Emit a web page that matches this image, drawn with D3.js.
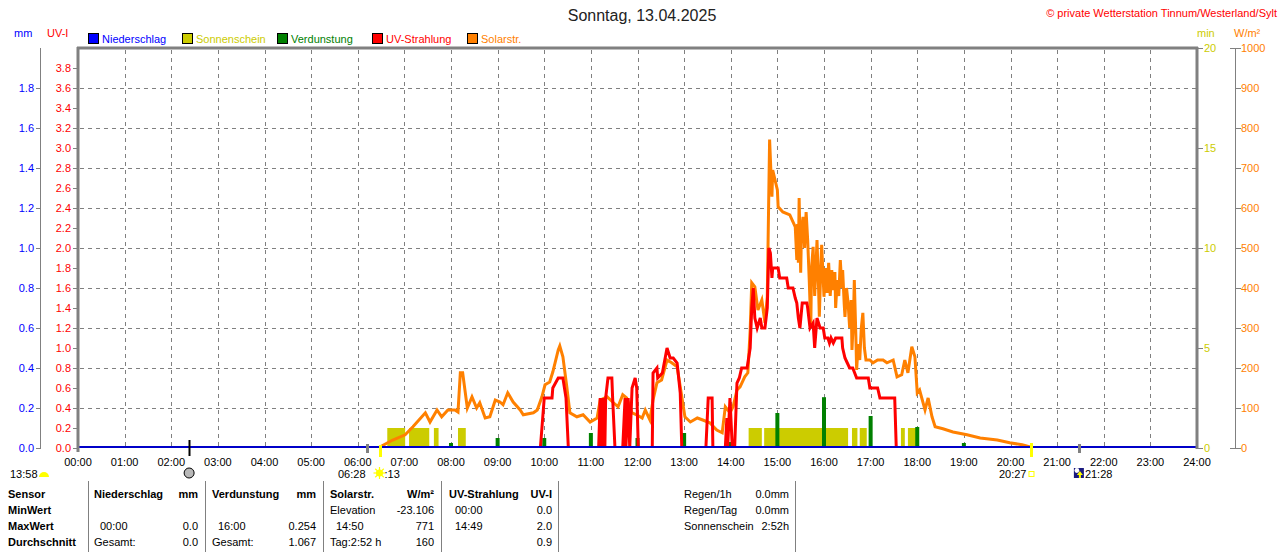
<!DOCTYPE html>
<html>
<head>
<meta charset="utf-8">
<script src="https://cdn.jsdelivr.net/npm/d3@7/dist/d3.min.js"></script>
<style>
body{margin:0;background:#fff;}
svg text{font-family:"Liberation Sans",Arial,sans-serif;font-size:11px;}
</style>
</head>
<body>
<div id="chart"></div>
<script>
// ---- data ----
var xTickLabels=["00:00","01:00","02:00","03:00","04:00","05:00","06:00","07:00","08:00","09:00","10:00","11:00","12:00",
  "13:00","14:00","15:00","16:00","17:00","18:00","19:00","20:00","21:00","22:00","23:00","24:00"];
var mmTicks=[0.0,0.2,0.4,0.6,0.8,1.0,1.2,1.4,1.6,1.8];
var uvTicks=[0.0,0.2,0.4,0.6,0.8,1.0,1.2,1.4,1.6,1.8,2.0,2.2,2.4,2.6,2.8,3.0,3.2,3.4,3.6,3.8];
var minTicks=[0,5,10,15,20];
var wTicks=[0,100,200,300,400,500,600,700,800,900,1000];

var legendNames=["Niederschlag","Sonnenschein","Verdunstung","UV-Strahlung","Solarstr."];
var legendColors=["#0000ff","#cccc00","#008000","#ff0000","#ff8000"];

// Sonnenschein (min)
var sunStart=["06:38","07:06","07:38","08:09","14:23","14:43","16:36","16:46","17:39","17:48"];
var sunEnd  =["07:01","07:32","07:44","08:19","14:40","16:31","16:43","16:55","17:44","18:01"];
var sunMinutes=[1,1,1,1,1,1,1,1,1,1];

// Verdunstung (mm)
var evapTimes=["08:00","09:00","10:00","11:00","12:00","13:00","14:00","15:00","16:00","17:00","18:00","19:00"];
var evapValues=[0.025,0.05,0.05,0.075,0.05,0.075,0.03,0.175,0.254,0.16,0.105,0.025];

// Solarstrahlung (W/m²)
var solarTimes=[
  "00:00","06:26","06:45","07:01","07:11","07:27","07:33","07:42","07:48","07:56","08:05","08:09","08:12","08:15","08:21",
  "08:27","08:33","08:37","08:44","08:50","08:57","09:03","09:07","09:13","09:20","09:29","09:33","09:46","09:51","09:57",
  "10:01","10:07","10:11","10:18","10:20","10:24","10:29","10:33","10:42","10:50","10:59","11:08","11:12","11:21","11:28",
  "11:35","11:41","11:46","11:53","11:59",
  "12:06","12:10","12:16","12:20","12:25","12:31","12:38","12:44","12:51","12:55","13:01","13:08","13:17","13:24","13:33",
  "13:42","13:49","13:53","13:59",
  "14:03","14:08","14:12","14:18","14:22","14:25","14:27","14:31","14:35","14:40","14:44","14:47","14:50","14:53","14:54",
  "15:00","15:01","15:07","15:16",
  "15:23","15:25","15:26","15:27","15:28","15:30","15:31","15:33","15:35","15:37","15:39","15:41","15:43","15:44","15:46",
  "15:48","15:50","15:51","15:53","15:54","15:56","15:57","15:59","16:00","16:02","16:04","16:06","16:08","16:10","16:12",
  "16:14","16:15","16:17","16:19","16:21","16:23","16:24","16:26","16:27","16:29","16:31","16:33","16:35","16:36","16:38",
  "16:39","16:41","16:42","16:44","16:46","16:48","16:50","16:52","16:54",
  "16:59","17:03","17:09","17:16","17:21","17:29","17:34","17:40","17:44","17:48","17:53","17:57","18:00","18:03","18:10",
  "18:14","18:19","18:23","18:33","18:46","19:04","19:21","19:43","19:59","20:15","20:25","20:27","24:00"];
var solarValues=[
  0,0,20,33,53,88,65,95,78,95,95,90,188,188,100,
  128,100,113,75,78,120,115,108,138,115,95,83,88,95,128,
  158,165,190,245,255,228,153,88,78,83,65,75,120,128,115,
  103,133,125,88,83,
  75,95,70,120,163,170,220,213,203,153,78,65,75,70,63,
  45,38,103,88,
  103,145,153,178,188,295,413,403,345,370,313,378,771,628,695,
  645,603,590,583,
  553,470,560,463,625,438,540,578,500,590,520,420,303,450,503,
  380,470,520,400,328,460,508,420,378,450,388,463,380,445,395,
  440,350,420,380,470,400,445,360,328,400,363,300,370,245,330,
  420,280,195,260,220,300,338,250,220,
  220,213,220,220,213,220,178,183,220,188,253,228,138,145,95,
  125,78,53,48,40,33,25,20,13,8,3,0,0];

// UV-Strahlung (UV-I)
var uvTimes=["00:00","09:55","09:58","10:00","10:10","10:11","10:18","10:24","10:28","10:31","11:10","11:12","11:14","11:16",
  "11:18","11:19","11:22","11:27","11:28","11:31","11:41","11:44","11:45","11:48","11:50","11:53","11:57","11:59","12:01","12:19",
  "12:20","12:25","12:26","12:32","12:38","12:42","12:46","12:51","12:55","12:57","13:28","13:31","13:36","13:37","13:53","13:55",
  "13:56","13:59","14:02","14:05","14:08","14:11","14:14","14:21","14:25","14:27","14:29","14:31","14:34","14:38","14:40","14:44",
  "14:47","14:49","14:51","14:53","14:54","15:01","15:03","15:12","15:14","15:20","15:23","15:25","15:27","15:29","15:32","15:38",
  "15:39","15:42","15:46","15:48","15:51","15:55","15:59","16:01","16:05","16:07","16:09","16:12","16:15","16:21","16:23","16:24",
  "16:27","16:30","16:33","16:37","16:42","16:57","16:59","17:09","17:12","17:31","17:33","24:00"];
var uvValues=[0,0,0.3,0.5,0.5,0.6,0.7,0.7,0.5,0,0,0.5,0,0.5,
  0,0.5,0.7,0.7,0.5,0,0,0.5,0,0.5,0,0.6,0.7,0.6,0,0,
  0.75,0.8,0.7,0.75,1.0,0.9,0.9,0.85,0.55,0,0,0.5,0.5,0,0,0.3,
  0,0.5,0,0,0.65,0.7,0.8,0.8,1.0,1.4,1.6,1.3,1.2,1.3,1.2,1.2,
  1.4,2.0,1.95,1.7,1.8,1.8,1.7,1.7,1.6,1.6,1.5,1.45,1.3,1.2,1.45,1.45,
  1.4,1.2,1.25,1.0,1.3,1.2,1.2,1.1,1.1,1.05,1.1,1.05,1.1,1.1,1.1,1.0,
  0.9,0.85,0.8,0.8,0.7,0.7,0.6,0.6,0.5,0.5,0,0];

// Sonne / Mond Zeiten unter der Achse
var moonTransit="02:23", dawn="06:12", sunrise="06:28", sunset="20:27", moonrise="21:28";

// Tabelle
var rowLabels=["Sensor","MinWert","MaxWert","Durchschnitt"];
var colHeaders=[["Niederschlag","mm"],["Verdunstung","mm"],["Solarstr.","W/m²"],["UV-Strahlung","UV-I"]];
var minRow=[["",""],["",""],["Elevation","-23.106"],["00:00","0.0"]];
var maxRow=[["00:00","0.0"],["16:00","0.254"],["14:50","771"],["14:49","2.0"]];
var avgRow=[["Gesamt:","0.0"],["Gesamt:","1.067"],["Tag:2:52 h","160"],["","0.9"]];
var sumLabels=["Regen/1h","Regen/Tag","Sonnenschein"];
var sumValues=["0.0mm","0.0mm","2:52h"];

// ---- drawing ----
var width=1280,height=552;
var gray="#808080";
var svg=d3.select("#chart").append("svg").attr("width",width).attr("height",height);

function hrs(s){var p=s.split(":");return +p[0]+(+p[1])/60;}

var x=d3.scaleLinear().domain([0,24]).range([78,1197]);
var yUV=d3.scaleLinear().domain([0,4]).range([448,48]);
var yMM=d3.scaleLinear().domain([0,2]).range([448,48]);
var yMin=d3.scaleLinear().domain([0,20]).range([448,48]);
var yW=d3.scaleLinear().domain([0,1000]).range([448,48]);

// lines are cut just above the zero line, the blue rain line covers the rest
svg.append("clipPath").attr("id","plotclip").append("rect")
  .attr("x",78).attr("y",40).attr("width",1119).attr("height",406.5);

// title
svg.append("text").attr("x",642).attr("y",21).attr("text-anchor","middle")
  .style("font-size","16px").attr("fill","#222").text("Sonntag, 13.04.2025");
svg.append("text").attr("x",1277).attr("y",17).attr("text-anchor","end")
  .attr("fill","#ff0000").text("© private Wetterstation Tinnum/Westerland/Sylt");

// units
svg.append("text").attr("x",14).attr("y",37).attr("fill","#0000ff").text("mm");
svg.append("text").attr("x",47).attr("y",37).attr("fill","#ff0000").text("UV-I");
svg.append("text").attr("x",1197).attr("y",37).attr("fill","#cccc00").text("min");
svg.append("text").attr("x",1234).attr("y",37).attr("fill","#ff8000").text("W/m²");

// legend
var legX=[88,182,277,372,467];
var leg=svg.selectAll(".leg").data(legendNames).enter().append("g")
  .attr("transform",function(d,i){return "translate("+legX[i]+",33)";});
leg.append("rect").attr("x",0.5).attr("y",0.5).attr("width",10).attr("height",10)
  .attr("fill",function(d,i){return legendColors[i];}).attr("stroke","#000");
leg.append("text").attr("x",14).attr("y",9.5)
  .attr("fill",function(d,i){return legendColors[i];}).text(function(d){return d;});

// grid
var grid=svg.append("g").attr("stroke",gray).attr("stroke-dasharray","4,4").attr("stroke-width",1);
grid.selectAll(".vg").data(d3.range(1,24)).enter().append("line")
  .attr("x1",function(d){return Math.round(x(d))+0.5;}).attr("x2",function(d){return Math.round(x(d))+0.5;})
  .attr("y1",50).attr("y2",448);
grid.selectAll(".hg").data(mmTicks.filter(function(d){return d>0;})).enter().append("line")
  .attr("y1",function(d){return Math.round(yMM(d))+0.5;}).attr("y2",function(d){return Math.round(yMM(d))+0.5;})
  .attr("x1",80).attr("x2",1196);

// sunshine bars
svg.append("g").selectAll("rect").data(sunStart).enter().append("rect")
  .attr("x",function(d){return x(hrs(d));})
  .attr("width",function(d,i){return x(hrs(sunEnd[i]))-x(hrs(d));})
  .attr("y",function(d,i){return yMin(sunMinutes[i]);})
  .attr("height",function(d,i){return yMin(0)-yMin(sunMinutes[i]);})
  .attr("fill","#cccc00");

// evaporation bars
svg.append("g").selectAll("rect").data(evapTimes).enter().append("rect")
  .attr("x",function(d){return x(hrs(d))-2;}).attr("width",4)
  .attr("y",function(d,i){return yMM(evapValues[i]);})
  .attr("height",function(d,i){return yMM(0)-yMM(evapValues[i]);})
  .attr("fill","#008000");

var lines=svg.append("g").attr("clip-path","url(#plotclip)");

// solar line
var solarLine=d3.line().x(function(d){return x(hrs(d));}).y(function(d,i){return yW(solarValues[i]);});
lines.append("path").datum(solarTimes).attr("d",solarLine)
  .attr("fill","none").attr("stroke","#ff8000").attr("stroke-width",3);

// uv line
var uvLine=d3.line().x(function(d){return x(hrs(d));}).y(function(d,i){return yUV(uvValues[i]);});
lines.append("path").datum(uvTimes).attr("d",uvLine)
  .attr("fill","none").attr("stroke","#ff0000").attr("stroke-width",3);

// rain baseline
svg.append("rect").attr("x",79).attr("width",1117).attr("y",446).attr("height",2)
  .attr("fill","#0000c8").attr("shape-rendering","crispEdges");

// frame
svg.append("line").attr("x1",78).attr("x2",78).attr("y1",47).attr("y2",452).attr("stroke",gray).attr("stroke-width",3);
svg.append("line").attr("x1",77).attr("x2",1198).attr("y1",48).attr("y2",48).attr("stroke",gray).attr("stroke-width",3);
svg.append("line").attr("x1",1197).attr("x2",1197).attr("y1",47).attr("y2",449).attr("stroke",gray).attr("stroke-width",3);

// left mm axis
svg.append("line").attr("x1",40.5).attr("x2",40.5).attr("y1",48).attr("y2",449).attr("stroke",gray);
var mmG=svg.append("g").selectAll("g").data(mmTicks).enter().append("g")
  .attr("transform",function(d){return "translate(0,"+Math.round(yMM(d))+")";});
mmG.append("line").attr("x1",36).attr("x2",41).attr("y1",0.5).attr("y2",0.5).attr("stroke",gray);
mmG.append("text").attr("x",34).attr("y",4).attr("text-anchor","end").attr("fill","#0000ff")
  .text(function(d){return d.toFixed(1);});

// left uv axis
var uvG=svg.append("g").selectAll("g").data(uvTicks).enter().append("g")
  .attr("transform",function(d){return "translate(0,"+Math.round(yUV(d))+")";});
uvG.append("line").attr("x1",73).attr("x2",78).attr("y1",0.5).attr("y2",0.5).attr("stroke",gray);
uvG.append("text").attr("x",71).attr("y",4).attr("text-anchor","end").attr("fill","#ff0000")
  .text(function(d){return d.toFixed(1);});

// right min axis
var minG=svg.append("g").selectAll("g").data(minTicks).enter().append("g")
  .attr("transform",function(d){return "translate(0,"+Math.round(yMin(d))+")";});
minG.append("line").attr("x1",1197).attr("x2",1203).attr("y1",0.5).attr("y2",0.5).attr("stroke",gray);
minG.append("text").attr("x",1204).attr("y",4).attr("fill","#cccc00").text(function(d){return d;});

// right W/m² axis
svg.append("line").attr("x1",1235.5).attr("x2",1235.5).attr("y1",48).attr("y2",449).attr("stroke",gray);
var wG=svg.append("g").selectAll("g").data(wTicks).enter().append("g")
  .attr("transform",function(d){return "translate(0,"+Math.round(yW(d))+")";});
wG.append("line").attr("x1",function(d){return (d==0||d==1000)?1230:1235;}).attr("x2",1241)
  .attr("y1",0.5).attr("y2",0.5).attr("stroke",gray);
wG.append("text").attr("x",1241).attr("y",4).attr("fill","#ff8000").text(function(d){return d;});

// x axis labels
svg.append("g").selectAll("text").data(xTickLabels).enter().append("text")
  .attr("x",function(d,i){return x(i);}).attr("y",466).attr("text-anchor","middle").attr("fill","#000")
  .text(function(d){return d;});

// sun / moon markers
function tick(t,y1,y2,color,w){
  svg.append("line").attr("x1",Math.round(x(hrs(t)))+0.5).attr("x2",Math.round(x(hrs(t)))+0.5)
    .attr("y1",y1).attr("y2",y2).attr("stroke",color).attr("stroke-width",w);
}
tick(moonTransit,440,456,"#000",2);
tick(dawn,444,453,gray,3);
tick(sunrise,445,457,"#ffff00",3);
tick(sunset,443,457,"#ffff00",3);
tick(moonrise,444,453,gray,3);

svg.append("text").attr("x",10).attr("y",478).text("13:58");
svg.append("path").attr("d","M39,477 A5,5 0 0 1 49,477 Z").attr("fill","#ffff00");

var mx=x(hrs(moonTransit));
svg.append("circle").attr("cx",mx).attr("cy",473).attr("r",5).attr("fill","#b8b8b8").attr("stroke","#000");

var sx=x(hrs(sunrise));
svg.append("text").attr("x",sx-14).attr("y",478).attr("text-anchor","end").text(sunrise);
var sun=svg.append("g").attr("transform","translate("+sx+",473)");
d3.range(8).forEach(function(k){
  var a=k*Math.PI/4;
  sun.append("line").attr("x1",Math.cos(a)*3).attr("y1",Math.sin(a)*3)
    .attr("x2",Math.cos(a)*6).attr("y2",Math.sin(a)*6).attr("stroke","#ffff00").attr("stroke-width",1.2);
});
sun.append("circle").attr("r",3.6).attr("fill","#ffff00");
svg.append("text").attr("x",sx+5).attr("y",478).text(":13");

var ssx=x(hrs(sunset));
svg.append("text").attr("x",ssx-5).attr("y",478).attr("text-anchor","end").text(sunset);
svg.append("rect").attr("x",ssx-2.5).attr("y",471.5).attr("width",5).attr("height",5)
  .attr("fill","none").attr("stroke","#ffff00");

var mrx=x(hrs(moonrise));
svg.append("rect").attr("x",mrx-5).attr("y",468).attr("width",10).attr("height",10).attr("fill","#1a1a80");
svg.append("circle").attr("cx",mrx-2).attr("cy",470.5).attr("r",2.4).attr("fill","#fff");
svg.append("path").attr("d","M"+(mrx+1)+",471 L"+(mrx+4)+",475 L"+(mrx+2)+",475 L"+(mrx+2)+",478 L"+mrx+",478 L"+mrx+",475 L"+(mrx-2)+",475 Z")
  .attr("fill","#ffff00");
svg.append("text").attr("x",mrx+6).attr("y",478).text(moonrise);

// table
var sepX=[88,205,323,441,558,795];
svg.append("g").selectAll("line").data(sepX).enter().append("line")
  .attr("x1",function(d){return d+0.5;}).attr("x2",function(d){return d+0.5;})
  .attr("y1",481).attr("y2",552).attr("stroke",gray);
var rowY=[498,514,530,546];
svg.append("g").selectAll("text").data(rowLabels).enter().append("text")
  .attr("x",8).attr("y",function(d,i){return rowY[i];}).style("font-weight","bold").text(function(d){return d;});
var colL=[94,212,330,449], colR=[198,316,434,552];
function isTime(s){return /^\d\d:\d\d$/.test(s);}
colHeaders.forEach(function(h,i){
  svg.append("text").attr("x",colL[i]).attr("y",rowY[0]).style("font-weight","bold").text(h[0]);
  svg.append("text").attr("x",colR[i]).attr("y",rowY[0]).attr("text-anchor","end").style("font-weight","bold").text(h[1]);
});
[minRow,maxRow,avgRow].forEach(function(row,r){
  row.forEach(function(c,i){
    svg.append("text").attr("x",colL[i]+(isTime(c[0])?6:0)).attr("y",rowY[r+1]).text(c[0]);
    svg.append("text").attr("x",colR[i]).attr("y",rowY[r+1]).attr("text-anchor","end").text(c[1]);
  });
});
sumLabels.forEach(function(l,i){
  svg.append("text").attr("x",684).attr("y",rowY[i]).text(l);
  svg.append("text").attr("x",789).attr("y",rowY[i]).attr("text-anchor","end").text(sumValues[i]);
});
</script>
</body>
</html>
